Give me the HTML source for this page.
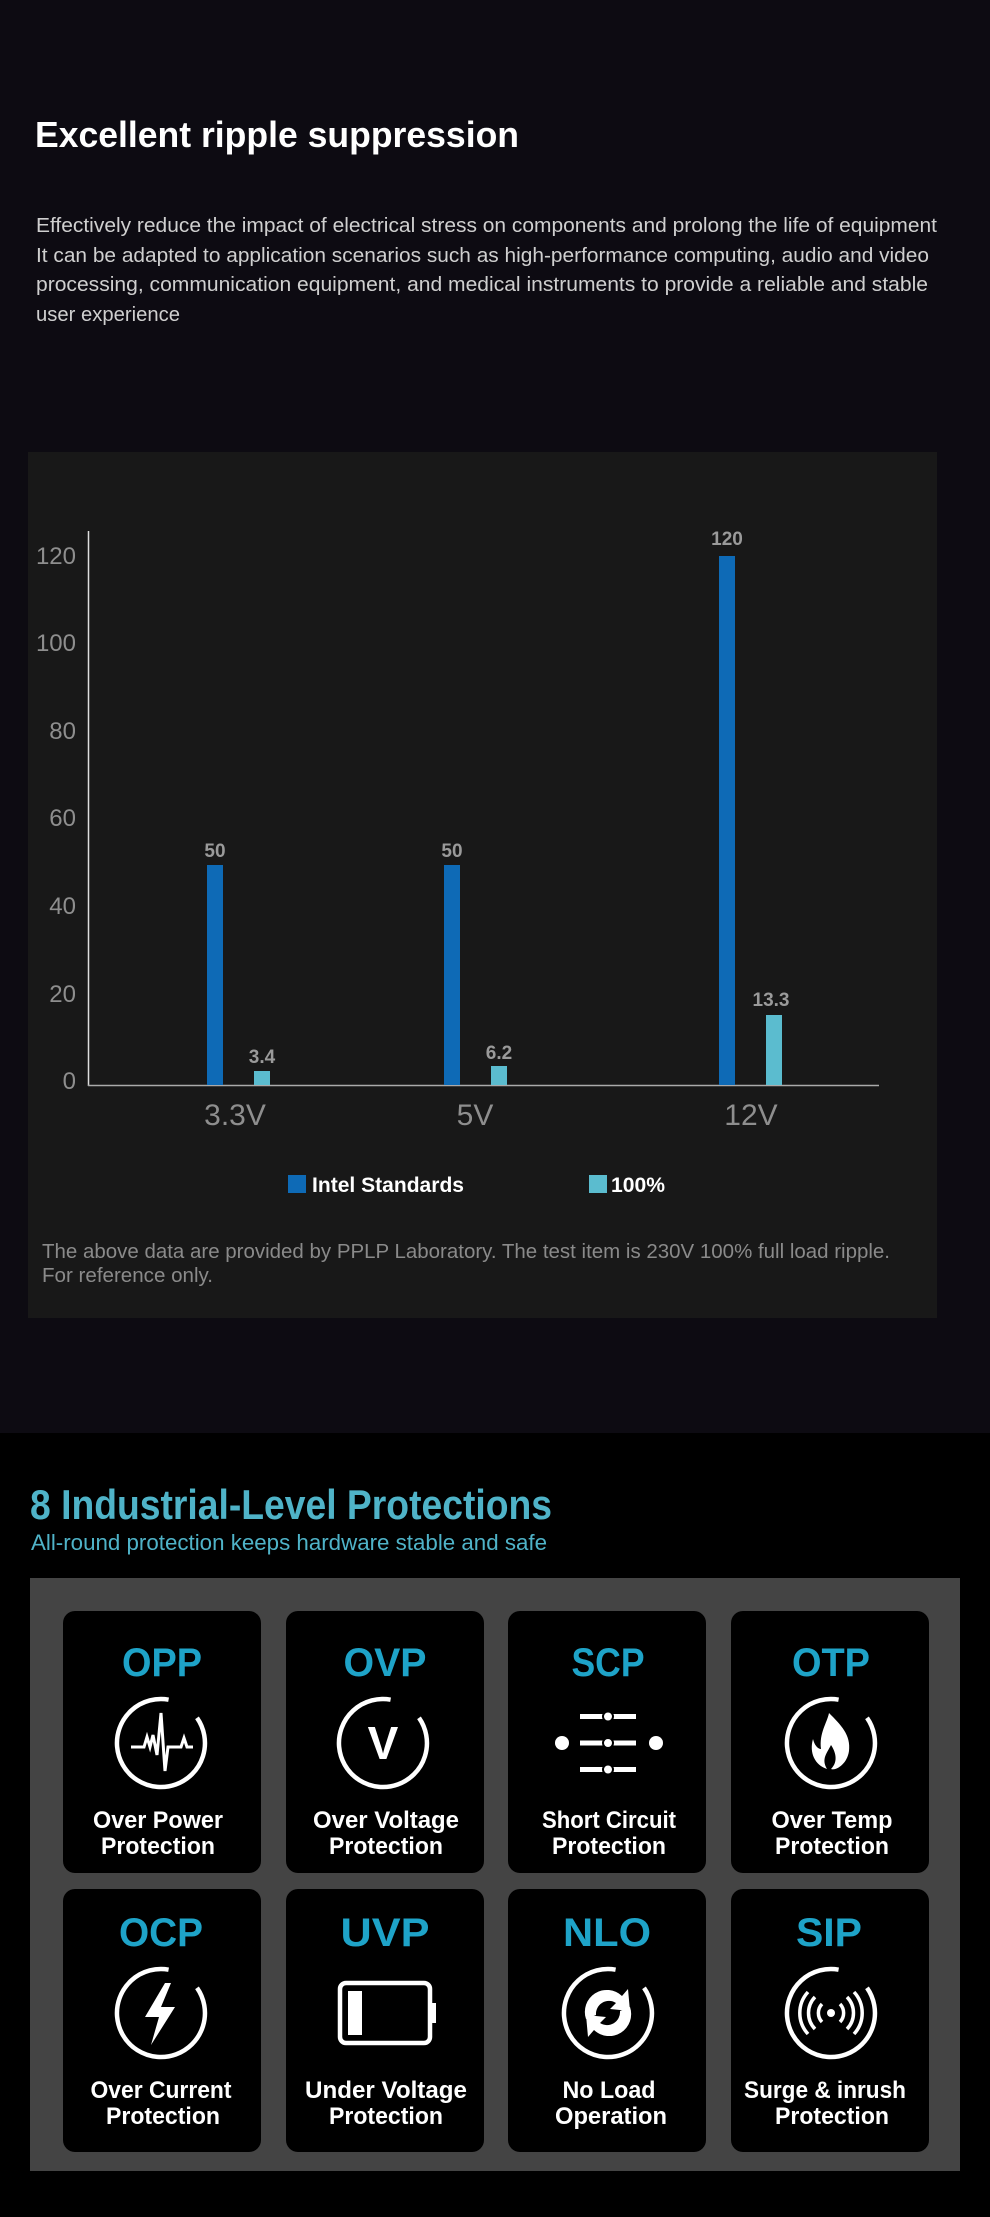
<!DOCTYPE html>
<html><head><meta charset="utf-8"><style>
html,body{margin:0;padding:0;background:#000}
svg{display:block}
text{font-family:"Liberation Sans",sans-serif}
</style></head><body>
<svg width="990" height="2217" viewBox="0 0 990 2217" xmlns="http://www.w3.org/2000/svg">
<defs>
<path id="ring" d="M36,-25.2 A44,44 0 1 1 7.6,-43.3" fill="none" stroke="#fff" stroke-width="4.5"/>
</defs>
<rect x="0" y="0" width="990" height="1433" fill="#0d0b12"/>
<rect x="0" y="1433" width="990" height="784" fill="#000"/>

<text x="35" y="147" font-size="36" font-weight="bold" fill="#fff" textLength="484" lengthAdjust="spacingAndGlyphs">Excellent ripple suppression</text>
<g font-size="20" fill="#cfcfcf">
<text x="36" y="232" textLength="901" lengthAdjust="spacingAndGlyphs">Effectively reduce the impact of electrical stress on components and prolong the life of equipment</text>
<text x="36" y="262" textLength="893" lengthAdjust="spacingAndGlyphs">It can be adapted to application scenarios such as high-performance computing, audio and video</text>
<text x="36" y="291" textLength="892" lengthAdjust="spacingAndGlyphs">processing, communication equipment, and medical instruments to provide a reliable and stable</text>
<text x="36" y="321" textLength="144" lengthAdjust="spacingAndGlyphs">user experience</text>
</g>

<rect x="28" y="452" width="909" height="866" fill="#181818"/>
<g font-size="24" fill="#8e8e8e" text-anchor="end">
<text x="76" y="564">120</text><text x="76" y="651">100</text><text x="76" y="739">80</text>
<text x="76" y="826">60</text><text x="76" y="914">40</text><text x="76" y="1002">20</text><text x="76" y="1089">0</text>
</g>
<line x1="88.5" y1="531" x2="88.5" y2="1086" stroke="#ddd" stroke-width="1.5"/>
<line x1="88" y1="1085.5" x2="879" y2="1085.5" stroke="#aaa" stroke-width="1.5"/>
<g fill="#0e6ab6">
<rect x="207" y="865" width="16" height="220"/><rect x="444" y="865" width="16" height="220"/><rect x="719" y="556" width="16" height="529"/>
</g>
<g fill="#5bbccf">
<rect x="254" y="1071" width="16" height="14"/><rect x="491" y="1066" width="16" height="19"/><rect x="766" y="1015" width="16" height="70"/>
</g>
<g font-size="19" font-weight="bold" fill="#9a9a9a" text-anchor="middle">
<text x="215" y="857">50</text><text x="452" y="857">50</text><text x="727" y="545">120</text>
<text x="262" y="1063">3.4</text><text x="499" y="1059">6.2</text><text x="771" y="1006">13.3</text>
</g>
<g font-size="30" fill="#8e8e8e" text-anchor="middle">
<text x="235" y="1125">3.3V</text><text x="475" y="1125">5V</text><text x="751" y="1125">12V</text>
</g>
<rect x="288" y="1175" width="18" height="18" fill="#0e6ab6"/>
<rect x="589" y="1175" width="18" height="18" fill="#5bbccf"/>
<g font-size="21" font-weight="bold" fill="#fff">
<text x="312" y="1192" textLength="152" lengthAdjust="spacingAndGlyphs">Intel Standards</text>
<text x="611" y="1192" textLength="54" lengthAdjust="spacingAndGlyphs">100%</text>
</g>
<g font-size="20" fill="#8a8a8a">
<text x="42" y="1258" textLength="848" lengthAdjust="spacingAndGlyphs">The above data are provided by PPLP Laboratory. The test item is 230V 100% full load ripple.</text>
<text x="42" y="1282" textLength="171" lengthAdjust="spacingAndGlyphs">For reference only.</text>
</g>

<text x="30" y="1519" font-size="42" font-weight="bold" fill="#4fb3c8" textLength="522" lengthAdjust="spacingAndGlyphs">8 Industrial-Level Protections</text>
<text x="31" y="1550" font-size="22" fill="#4fb3c8" textLength="516" lengthAdjust="spacingAndGlyphs">All-round protection keeps hardware stable and safe</text>

<rect x="30" y="1578" width="930" height="593" fill="#444"/>
<g fill="#000">
<rect x="63" y="1611" width="198" height="262" rx="12"/><rect x="286" y="1611" width="198" height="262" rx="12"/>
<rect x="508" y="1611" width="198" height="262" rx="12"/><rect x="731" y="1611" width="198" height="262" rx="12"/>
<rect x="63" y="1889" width="198" height="263" rx="12"/><rect x="286" y="1889" width="198" height="263" rx="12"/>
<rect x="508" y="1889" width="198" height="263" rx="12"/><rect x="731" y="1889" width="198" height="263" rx="12"/>
</g>
<g font-size="40" font-weight="bold" fill="#1ea3c8" text-anchor="middle">
<text x="162" y="1676" textLength="80" lengthAdjust="spacingAndGlyphs">OPP</text>
<text x="385" y="1676" textLength="83" lengthAdjust="spacingAndGlyphs">OVP</text>
<text x="608" y="1676" textLength="73" lengthAdjust="spacingAndGlyphs">SCP</text>
<text x="831" y="1676" textLength="78" lengthAdjust="spacingAndGlyphs">OTP</text>
<text x="161" y="1946" textLength="84" lengthAdjust="spacingAndGlyphs">OCP</text>
<text x="385" y="1946" textLength="89" lengthAdjust="spacingAndGlyphs">UVP</text>
<text x="607" y="1946" textLength="88" lengthAdjust="spacingAndGlyphs">NLO</text>
<text x="829" y="1946" textLength="66" lengthAdjust="spacingAndGlyphs">SIP</text>
</g>
<g font-size="24" font-weight="bold" fill="#fff" text-anchor="middle">
<text x="158" y="1828" textLength="130" lengthAdjust="spacingAndGlyphs">Over Power</text>
<text x="158" y="1854" textLength="114" lengthAdjust="spacingAndGlyphs">Protection</text>
<text x="386" y="1828" textLength="146" lengthAdjust="spacingAndGlyphs">Over Voltage</text>
<text x="386" y="1854" textLength="114" lengthAdjust="spacingAndGlyphs">Protection</text>
<text x="609" y="1828" textLength="134" lengthAdjust="spacingAndGlyphs">Short Circuit</text>
<text x="609" y="1854" textLength="114" lengthAdjust="spacingAndGlyphs">Protection</text>
<text x="832" y="1828" textLength="121" lengthAdjust="spacingAndGlyphs">Over Temp</text>
<text x="832" y="1854" textLength="114" lengthAdjust="spacingAndGlyphs">Protection</text>
<text x="161" y="2098" textLength="141" lengthAdjust="spacingAndGlyphs">Over Current</text>
<text x="163" y="2124" textLength="114" lengthAdjust="spacingAndGlyphs">Protection</text>
<text x="386" y="2098" textLength="162" lengthAdjust="spacingAndGlyphs">Under Voltage</text>
<text x="386" y="2124" textLength="114" lengthAdjust="spacingAndGlyphs">Protection</text>
<text x="609" y="2098" textLength="93" lengthAdjust="spacingAndGlyphs">No Load</text>
<text x="611" y="2124" textLength="112" lengthAdjust="spacingAndGlyphs">Operation</text>
<text x="825" y="2098" textLength="162" lengthAdjust="spacingAndGlyphs">Surge &amp; inrush</text>
<text x="832" y="2124" textLength="114" lengthAdjust="spacingAndGlyphs">Protection</text>
</g>

<!-- icons -->
<g transform="translate(161,1743)">
<use href="#ring"/>
<polyline points="-30,4 -17,4 -14,-6 -11,4 -8,-8 -4,12 0,-30 4,28 7,4 20,4 23,-5 26,4 32,4" fill="none" stroke="#fff" stroke-width="3" stroke-linejoin="miter"/>
</g>
<g transform="translate(383,1743)">
<use href="#ring"/>
<text x="0" y="16" font-size="46" font-weight="bold" fill="#fff" text-anchor="middle">V</text>
</g>
<g transform="translate(608,1743)" fill="#fff">
<rect x="-28" y="-29" width="56" height="5"/><rect x="-28" y="-2.5" width="56" height="5"/><rect x="-28" y="24" width="56" height="5"/>
<circle cx="0" cy="-26.5" r="5" stroke="#000" stroke-width="2"/><circle cx="0" cy="0" r="5" stroke="#000" stroke-width="2"/><circle cx="0" cy="26.5" r="5" stroke="#000" stroke-width="2"/>
<circle cx="-46" cy="0" r="7"/><circle cx="48" cy="0" r="7"/>
</g>
<g transform="translate(831,1743)">
<use href="#ring"/>
<path d="M-2,-30 C10,-18 20,-8 18,8 C16,22 4,28 0,26 C8,18 4,8 0,2 C-4,10 -10,16 -4,26 C-16,22 -22,10 -18,-4 C-16,4 -12,6 -10,6 C-12,-10 -4,-20 -2,-30 Z" fill="#fff"/>
</g>
<g transform="translate(161,2013)">
<use href="#ring"/>
<polygon points="4,-30 -16,4 -2,4 -10,32 14,-6 0,-6 10,-30" fill="#fff"/>
</g>
<g transform="translate(385,2013)">
<rect x="-45" y="-30" width="90" height="60" rx="6" fill="none" stroke="#fff" stroke-width="4.5"/>
<rect x="45" y="-10" width="6" height="20" fill="#fff"/>
<rect x="-37" y="-22" width="14" height="44" fill="#fff"/>
</g>
<g transform="translate(608,2013)">
<use href="#ring"/>
<path d="M-22,6 A22,22 0 0 1 14,-17 L20,-24 L22,-2 L2,-4 L8,-10 A13,13 0 0 0 -12,2 Z" fill="#fff"/>
<path d="M22,-6 A22,22 0 0 1 -14,17 L-20,24 L-22,2 L-2,4 L-8,10 A13,13 0 0 0 12,-2 Z" fill="#fff"/>
</g>
<g transform="translate(831,2013)" fill="none" stroke="#fff" stroke-width="3.5">
<use href="#ring"/>
<circle cx="0" cy="0" r="4" fill="#fff" stroke="none"/>
<path d="M-9,-9 A13,13 0 0 0 -9,9 M9,-9 A13,13 0 0 1 9,9"/>
<path d="M-16,-16 A23,23 0 0 0 -16,16 M16,-16 A23,23 0 0 1 16,16"/>
<path d="M-23,-21 A31,31 0 0 0 -23,21 M23,-21 A31,31 0 0 1 23,21"/>
</g>
</svg>
</body></html>
